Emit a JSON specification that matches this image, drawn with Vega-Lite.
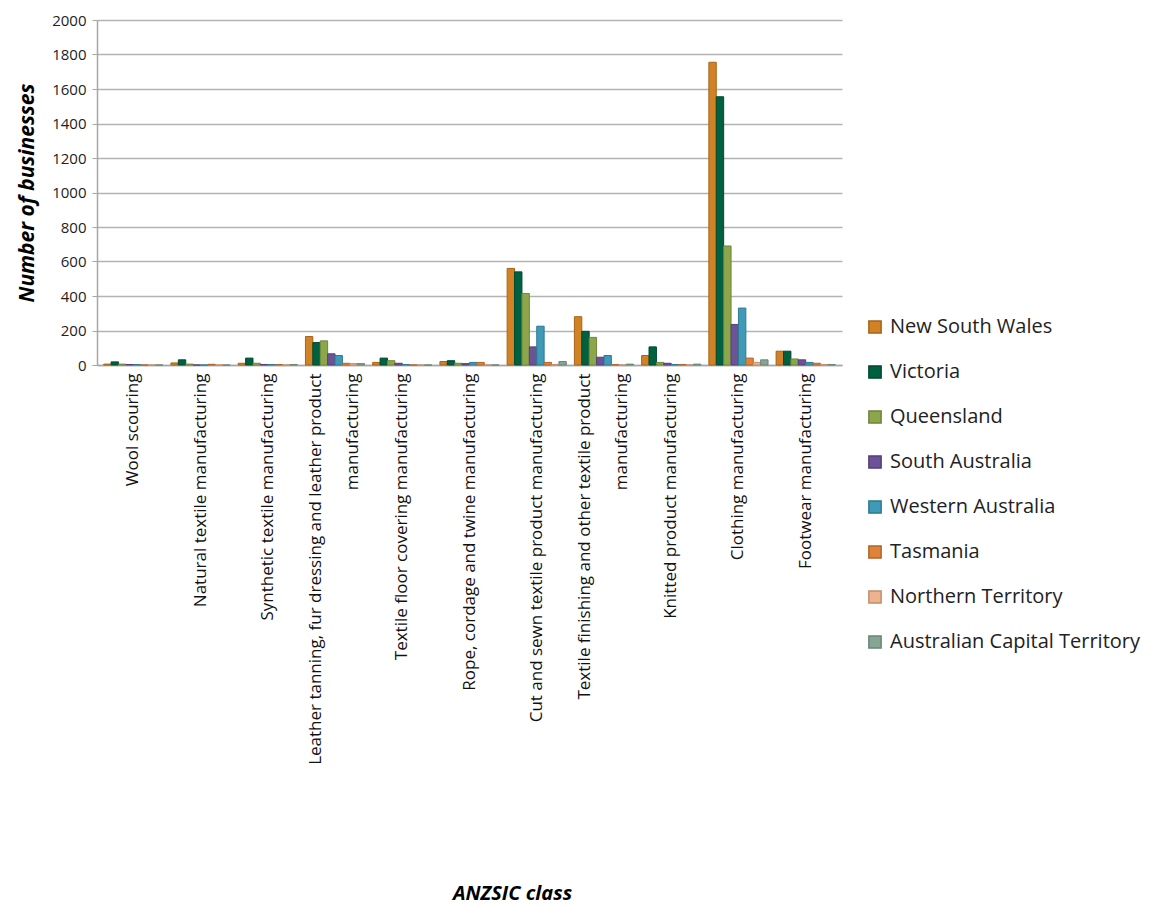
{
  "$schema": "https://vega.github.io/schema/vega-lite/v6.json",
  "width": 745,
  "height": 345,
  "autosize": {"type": "none"},
  "padding": {"left": 97, "top": 20, "right": 313, "bottom": 543},
  "background": "white",
  "datasets": {
    "biz": [
      {"cls": "Wool scouring", "state": "New South Wales", "n": 5},
      {"cls": "Wool scouring", "state": "Victoria", "n": 18},
      {"cls": "Wool scouring", "state": "Queensland", "n": 5},
      {"cls": "Wool scouring", "state": "South Australia", "n": 3},
      {"cls": "Wool scouring", "state": "Western Australia", "n": 3},
      {"cls": "Wool scouring", "state": "Tasmania", "n": 0},
      {"cls": "Wool scouring", "state": "Northern Territory", "n": 0},
      {"cls": "Wool scouring", "state": "Australian Capital Territory", "n": 0},
      {"cls": "Natural textile manufacturing", "state": "New South Wales", "n": 12},
      {"cls": "Natural textile manufacturing", "state": "Victoria", "n": 30},
      {"cls": "Natural textile manufacturing", "state": "Queensland", "n": 5},
      {"cls": "Natural textile manufacturing", "state": "South Australia", "n": 0},
      {"cls": "Natural textile manufacturing", "state": "Western Australia", "n": 0},
      {"cls": "Natural textile manufacturing", "state": "Tasmania", "n": 4},
      {"cls": "Natural textile manufacturing", "state": "Northern Territory", "n": 0},
      {"cls": "Natural textile manufacturing", "state": "Australian Capital Territory", "n": 0},
      {"cls": "Synthetic textile manufacturing", "state": "New South Wales", "n": 10},
      {"cls": "Synthetic textile manufacturing", "state": "Victoria", "n": 40},
      {"cls": "Synthetic textile manufacturing", "state": "Queensland", "n": 10},
      {"cls": "Synthetic textile manufacturing", "state": "South Australia", "n": 3},
      {"cls": "Synthetic textile manufacturing", "state": "Western Australia", "n": 3},
      {"cls": "Synthetic textile manufacturing", "state": "Tasmania", "n": 3},
      {"cls": "Synthetic textile manufacturing", "state": "Northern Territory", "n": 0},
      {"cls": "Synthetic textile manufacturing", "state": "Australian Capital Territory", "n": 3},
      {"cls": "Leather tanning, fur dressing and leather product|manufacturing", "state": "New South Wales", "n": 165},
      {"cls": "Leather tanning, fur dressing and leather product|manufacturing", "state": "Victoria", "n": 130},
      {"cls": "Leather tanning, fur dressing and leather product|manufacturing", "state": "Queensland", "n": 140},
      {"cls": "Leather tanning, fur dressing and leather product|manufacturing", "state": "South Australia", "n": 65},
      {"cls": "Leather tanning, fur dressing and leather product|manufacturing", "state": "Western Australia", "n": 55},
      {"cls": "Leather tanning, fur dressing and leather product|manufacturing", "state": "Tasmania", "n": 10},
      {"cls": "Leather tanning, fur dressing and leather product|manufacturing", "state": "Northern Territory", "n": 8},
      {"cls": "Leather tanning, fur dressing and leather product|manufacturing", "state": "Australian Capital Territory", "n": 8},
      {"cls": "Textile floor covering manufacturing", "state": "New South Wales", "n": 15},
      {"cls": "Textile floor covering manufacturing", "state": "Victoria", "n": 40},
      {"cls": "Textile floor covering manufacturing", "state": "Queensland", "n": 25},
      {"cls": "Textile floor covering manufacturing", "state": "South Australia", "n": 10},
      {"cls": "Textile floor covering manufacturing", "state": "Western Australia", "n": 3},
      {"cls": "Textile floor covering manufacturing", "state": "Tasmania", "n": 0},
      {"cls": "Textile floor covering manufacturing", "state": "Northern Territory", "n": 0},
      {"cls": "Textile floor covering manufacturing", "state": "Australian Capital Territory", "n": 0},
      {"cls": "Rope, cordage and twine manufacturing", "state": "New South Wales", "n": 20},
      {"cls": "Rope, cordage and twine manufacturing", "state": "Victoria", "n": 25},
      {"cls": "Rope, cordage and twine manufacturing", "state": "Queensland", "n": 10},
      {"cls": "Rope, cordage and twine manufacturing", "state": "South Australia", "n": 8},
      {"cls": "Rope, cordage and twine manufacturing", "state": "Western Australia", "n": 15},
      {"cls": "Rope, cordage and twine manufacturing", "state": "Tasmania", "n": 15},
      {"cls": "Rope, cordage and twine manufacturing", "state": "Northern Territory", "n": 0},
      {"cls": "Rope, cordage and twine manufacturing", "state": "Australian Capital Territory", "n": 0},
      {"cls": "Cut and sewn textile product manufacturing", "state": "New South Wales", "n": 560},
      {"cls": "Cut and sewn textile product manufacturing", "state": "Victoria", "n": 540},
      {"cls": "Cut and sewn textile product manufacturing", "state": "Queensland", "n": 415},
      {"cls": "Cut and sewn textile product manufacturing", "state": "South Australia", "n": 105},
      {"cls": "Cut and sewn textile product manufacturing", "state": "Western Australia", "n": 225},
      {"cls": "Cut and sewn textile product manufacturing", "state": "Tasmania", "n": 15},
      {"cls": "Cut and sewn textile product manufacturing", "state": "Northern Territory", "n": 3},
      {"cls": "Cut and sewn textile product manufacturing", "state": "Australian Capital Territory", "n": 20},
      {"cls": "Textile finishing and other textile product|manufacturing", "state": "New South Wales", "n": 280},
      {"cls": "Textile finishing and other textile product|manufacturing", "state": "Victoria", "n": 195},
      {"cls": "Textile finishing and other textile product|manufacturing", "state": "Queensland", "n": 160},
      {"cls": "Textile finishing and other textile product|manufacturing", "state": "South Australia", "n": 45},
      {"cls": "Textile finishing and other textile product|manufacturing", "state": "Western Australia", "n": 55},
      {"cls": "Textile finishing and other textile product|manufacturing", "state": "Tasmania", "n": 3},
      {"cls": "Textile finishing and other textile product|manufacturing", "state": "Northern Territory", "n": 0},
      {"cls": "Textile finishing and other textile product|manufacturing", "state": "Australian Capital Territory", "n": 5},
      {"cls": "Knitted product manufacturing", "state": "New South Wales", "n": 55},
      {"cls": "Knitted product manufacturing", "state": "Victoria", "n": 105},
      {"cls": "Knitted product manufacturing", "state": "Queensland", "n": 15},
      {"cls": "Knitted product manufacturing", "state": "South Australia", "n": 10},
      {"cls": "Knitted product manufacturing", "state": "Western Australia", "n": 3},
      {"cls": "Knitted product manufacturing", "state": "Tasmania", "n": 3},
      {"cls": "Knitted product manufacturing", "state": "Northern Territory", "n": 0},
      {"cls": "Knitted product manufacturing", "state": "Australian Capital Territory", "n": 5},
      {"cls": "Clothing manufacturing", "state": "New South Wales", "n": 1755},
      {"cls": "Clothing manufacturing", "state": "Victoria", "n": 1555},
      {"cls": "Clothing manufacturing", "state": "Queensland", "n": 690},
      {"cls": "Clothing manufacturing", "state": "South Australia", "n": 235},
      {"cls": "Clothing manufacturing", "state": "Western Australia", "n": 330},
      {"cls": "Clothing manufacturing", "state": "Tasmania", "n": 40},
      {"cls": "Clothing manufacturing", "state": "Northern Territory", "n": 15},
      {"cls": "Clothing manufacturing", "state": "Australian Capital Territory", "n": 30},
      {"cls": "Footwear manufacturing", "state": "New South Wales", "n": 80},
      {"cls": "Footwear manufacturing", "state": "Victoria", "n": 80},
      {"cls": "Footwear manufacturing", "state": "Queensland", "n": 35},
      {"cls": "Footwear manufacturing", "state": "South Australia", "n": 30},
      {"cls": "Footwear manufacturing", "state": "Western Australia", "n": 15},
      {"cls": "Footwear manufacturing", "state": "Tasmania", "n": 10},
      {"cls": "Footwear manufacturing", "state": "Northern Territory", "n": 3},
      {"cls": "Footwear manufacturing", "state": "Australian Capital Territory", "n": 3}
    ]
  },
  "data": {"name": "biz"},
  "config": {
    "font": "Open Sans",
    "view": {"stroke": null},
    "axis": {"labelFont": "Open Sans", "titleFont": "Open Sans"}
  },
  "mark": {"type": "bar", "strokeWidth": 1},
  "encoding": {
    "x": {
      "field": "cls",
      "type": "nominal",
      "sort": null,
      "scale": {"paddingInner": 0.12, "paddingOuter": 0.1},
      "axis": {
        "title": "ANZSIC class",
        "titleFontSize": 20,
        "titleFontWeight": "bold",
        "titleFontStyle": "italic",
        "titleColor": "#000000",
        "titleX": 415,
        "titleY": 528,
        "titleBaseline": "middle",
        "labelAngle": -90,
        "labelFontSize": 17,
        "labelColor": "#111111",
        "labelLimit": 0,
        "labelPadding": 8,
        "labelLineHeight": 37,
        "labelExpr": "split(datum.label, '|')",
        "labelOffset": {"condition": {"test": "indexof(datum.label, '|') >= 0", "value": -19}, "value": 0},
        "ticks": false,
        "domainColor": "#a6a6a6",
        "domainWidth": 1.5,
        "grid": false
      }
    },
    "xOffset": {
      "field": "state",
      "type": "nominal",
      "sort": null,
      "scale": {"paddingInner": 0, "paddingOuter": 0}
    },
    "y": {
      "field": "n",
      "type": "quantitative",
      "scale": {"domain": [0, 2000], "nice": false},
      "axis": {
        "title": "Number of businesses",
        "titleFontSize": 21,
        "titleFontWeight": "bold",
        "titleFontStyle": "italic",
        "titleColor": "#000000",
        "titlePadding": 14,
        "format": "d",
        "values": [0, 200, 400, 600, 800, 1000, 1200, 1400, 1600, 1800, 2000],
        "labelFontSize": 15,
        "labelColor": "#222222",
        "labelPadding": 6,
        "tickColor": "#a6a6a6",
        "tickSize": 5,
        "domainColor": "#a6a6a6",
        "domainWidth": 1.5,
        "gridColor": "#b3b3b3",
        "gridWidth": 1.5
      }
    },
    "fill": {
      "field": "state",
      "type": "nominal",
      "sort": null,
      "scale": {
        "domain": ["New South Wales", "Victoria", "Queensland", "South Australia", "Western Australia", "Tasmania", "Northern Territory", "Australian Capital Territory"],
        "range": ["#D08224", "#00603F", "#8DA64C", "#6C5395", "#3E9AB6", "#DD843A", "#EDB38D", "#86A594"]
      },
      "legend": {
        "title": null,
        "orient": "none",
        "legendX": 768,
        "legendY": 297,
        "labelFontSize": 20,
        "labelColor": "#222222",
        "labelFont": "Open Sans",
        "symbolType": "square",
        "symbolSize": 150,
        "symbolStrokeWidth": 1.5,
        "rowPadding": 25,
        "labelOffset": 5,
        "labelLimit": 0
      }
    },
    "stroke": {
      "field": "state",
      "type": "nominal",
      "sort": null,
      "scale": {
        "domain": ["New South Wales", "Victoria", "Queensland", "South Australia", "Western Australia", "Tasmania", "Northern Territory", "Australian Capital Territory"],
        "range": ["#A5641A", "#004A30", "#6F853A", "#54407A", "#2E7A92", "#B0662A", "#C48E6C", "#6A8577"]
      }
    }
  }
}
